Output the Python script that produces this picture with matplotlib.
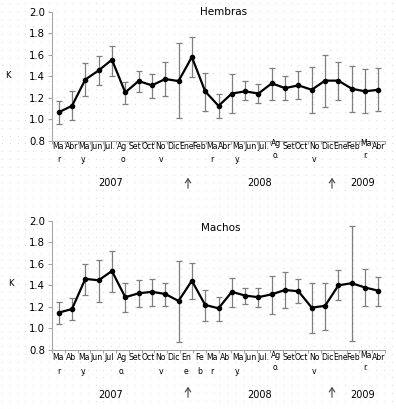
import numpy as np
import matplotlib
matplotlib.use("Agg")
import matplotlib.pyplot as plt

# Data (25 monthly points, Mar 2007 - Abr 2009)
hembras = [1.065, 1.125, 1.37, 1.455, 1.555, 1.25, 1.356, 1.316, 1.375, 1.356, 1.58, 1.26, 1.125,
           1.24, 1.26, 1.24, 1.335, 1.29, 1.316, 1.275, 1.36, 1.36, 1.285, 1.26, 1.275]
hembras_hi = [1.17, 1.26, 1.52, 1.59, 1.68, 1.35, 1.45, 1.425, 1.53, 1.71, 1.77, 1.43, 1.24,
              1.42, 1.36, 1.33, 1.48, 1.40, 1.45, 1.49, 1.60, 1.53, 1.50, 1.47, 1.48]
hembras_lo = [0.96, 0.99, 1.22, 1.32, 1.40, 1.14, 1.25, 1.20, 1.215, 1.01, 1.39, 1.08, 1.01,
              1.06, 1.18, 1.15, 1.18, 1.18, 1.19, 1.06, 1.11, 1.18, 1.07, 1.06, 1.08]

machos = [1.147, 1.18, 1.46, 1.447, 1.533, 1.29, 1.326, 1.34, 1.32, 1.255, 1.443, 1.218, 1.187,
          1.34, 1.305, 1.29, 1.317, 1.357, 1.345, 1.193, 1.21, 1.40, 1.42, 1.38, 1.35]
machos_hi = [1.25, 1.28, 1.60, 1.635, 1.72, 1.425, 1.45, 1.46, 1.425, 1.63, 1.61, 1.36, 1.29,
             1.465, 1.38, 1.38, 1.49, 1.52, 1.456, 1.425, 1.425, 1.54, 1.95, 1.555, 1.48]
machos_lo = [1.04, 1.08, 1.31, 1.245, 1.34, 1.15, 1.20, 1.21, 1.21, 0.875, 1.27, 1.07, 1.07,
             1.20, 1.225, 1.20, 1.13, 1.19, 1.236, 0.955, 0.99, 1.265, 0.885, 1.21, 1.21]

labels_h = ["Ma\nr", "Abr", "Ma\ny.", "Jun", "Jul.", "Ag\no", "Set", "Oct", "No\nv", "Dic",
            "Ene", "Feb", "Ma\nr", "Abr", "Ma\ny.", "Jun", "Jul.", "Ag\no.", "Set", "Oct",
            "No\nv", "Dic", "Ene", "Feb", "Ma\nr.", "Abr"]
labels_m = ["Ma\nr", "Ab", "Ma\ny.", "Jun", "Jul", "Ag\no.", "Set", "Oct", "No\nv", "Dic",
            "En\ne", "Fe\nb", "Ma\nr", "Ab", "Ma\ny.", "Jun", "Jul.", "Ag\no.", "Set", "Oct",
            "No\nv", "Dic", "Ene", "Feb", "Ma\nr.", "Abr"]
raised = [17, 24]

years = ["2007", "2008", "2009"]
year_x = [111, 260, 363]       # pixel centres
arrow_x = [188, 332]

W, H = 396, 409
fig = plt.figure(figsize=(W / 100, H / 100), dpi=100)

# faint dotted background
bg = fig.add_axes([0, 0, 1, 1], zorder=-5)
gx, gy = np.meshgrid(np.arange(2, W, 7.8), np.arange(3, H, 7.8))
bg.scatter(gx.ravel(), gy.ravel(), s=0.8, c="#dcdcdc", linewidths=0)
bg.set_xlim(0, W)
bg.set_ylim(H, 0)
bg.axis("off")


def panel(rect, vals, hi, lo, labels, title, title_xy, ylab_xy, year_y, arrow_y, offs):
    ax = fig.add_axes(rect)
    ax.patch.set_alpha(0)
    x = np.arange(len(vals))
    v = np.array(vals)
    yerr = [v - np.array(lo), np.array(hi) - v]
    ax.errorbar(x, v, yerr=yerr, fmt="none", ecolor="#7f7f7f", elinewidth=0.9,
                capsize=2.5, capthick=0.9, zorder=2)
    ax.plot(x, v, color="black", lw=1.6, marker="o", ms=3.0, zorder=3)
    ax.set_xlim(-0.5, len(vals) - 0.5)
    ax.set_ylim(0.8, 2.0)
    ax.set_yticks(np.arange(0.8, 2.01, 0.2))
    ax.set_yticklabels([f"{t:.1f}" for t in np.arange(0.8, 2.01, 0.2)])
    n = len(labels)
    ax.set_xticks(-0.5 + np.arange(n + 1) * len(vals) / n)
    ax.set_xticklabels([])
    for s in ["top", "right"]:
        ax.spines[s].set_visible(False)
    for s in ["left", "bottom"]:
        ax.spines[s].set_color("#a6a6a6")
    ax.tick_params(axis="y", labelsize=7.3, length=3, color="#a6a6a6", pad=2)
    ax.tick_params(axis="x", length=2.5, color="#a6a6a6")

    for i, lab in enumerate(labels):
        xf = (i + 0.5) / n
        parts = lab.split("\n")
        d1, d2 = offs if i not in raised else (offs[0] - 3, offs[1] - 4)
        ax.annotate(parts[0], (xf, 0), xycoords="axes fraction", xytext=(0, -d1),
                    textcoords="offset pixels", ha="center", va="center", fontsize=5.6)
        if len(parts) > 1:
            ax.annotate(parts[1], (xf, 0), xycoords="axes fraction", xytext=(0, -d2),
                        textcoords="offset pixels", ha="center", va="center", fontsize=5.6)

    fig.text(title_xy[0] / W, 1 - title_xy[1] / H, title, ha="center", va="center", fontsize=7.5)
    fig.text(ylab_xy[0] / W, 1 - ylab_xy[1] / H, "K", ha="center", va="center", fontsize=6)
    for yr, xp in zip(years, year_x):
        fig.text(xp / W, 1 - year_y / H, yr, ha="center", va="center", fontsize=7)
    for xp in arrow_x:
        fig.add_artist(matplotlib.patches.FancyArrowPatch(
            (xp / W, 1 - (arrow_y + 8) / H), (xp / W, 1 - (arrow_y - 8) / H),
            transform=fig.transFigure, arrowstyle="->,head_length=3,head_width=2",
            lw=0.8, color="#444444", mutation_scale=1))
    return ax


panel([52 / W, 1 - 140.7 / H, 333 / W, 128.7 / H], hembras, hembras_hi, hembras_lo, labels_h,
      "Hembras", (224, 12), (8, 75), 183, 183, (6, 19))
panel([52 / W, 1 - 350 / H, 333 / W, 129.3 / H], machos, machos_hi, machos_lo, labels_m,
      "Machos", (221, 228), (11, 284), 395, 392, (8, 21))

fig.savefig("out.png", dpi=100)
